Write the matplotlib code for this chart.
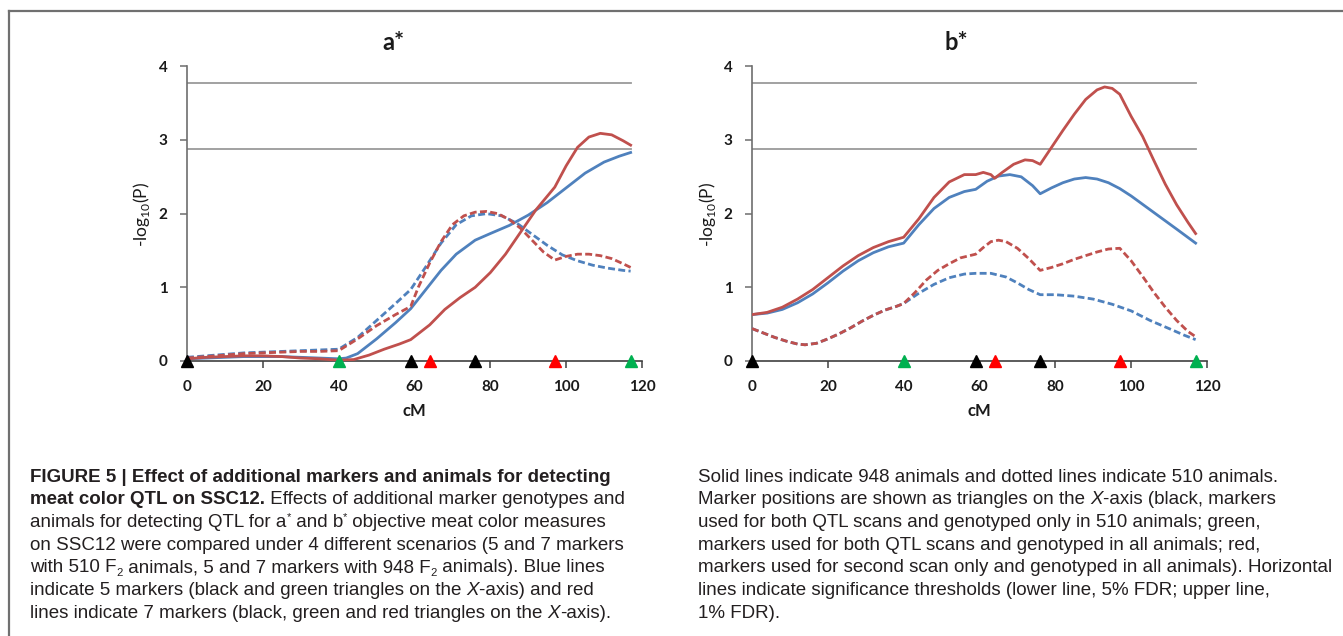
import matplotlib
matplotlib.use("Agg")
import matplotlib.pyplot as plt
import matplotlib.transforms as mtransforms
from matplotlib.lines import Line2D

# ==========================================================
# Data (cM positions and -log10(P) values)
# ==========================================================

# panel a*, 948 animals (solid)
a_red_solid_x = [0, 5, 10, 15, 20, 25, 30, 35, 40, 44, 48, 52, 56, 59, 64, 68, 72, 76, 80, 84,
                 88, 92, 97, 100, 103, 106, 109, 112, 115, 117]
a_red_solid_y = [0.03, 0.05, 0.06, 0.07, 0.07, 0.06, 0.04, 0.03, 0.01, 0.02, 0.08, 0.16, 0.23,
                 0.29, 0.49, 0.70, 0.86, 1.00, 1.20, 1.45, 1.75, 2.05, 2.36, 2.65, 2.90, 3.04,
                 3.09, 3.07, 2.99, 2.93]
a_blue_solid_x = [0, 5, 10, 15, 20, 25, 30, 35, 40, 42, 45, 50, 55, 59, 63, 67, 71, 76, 80, 85,
                  90, 95, 100, 105, 110, 114, 117]
a_blue_solid_y = [0.03, 0.04, 0.05, 0.06, 0.06, 0.06, 0.05, 0.04, 0.03, 0.04, 0.10, 0.30, 0.52,
                  0.71, 0.97, 1.23, 1.45, 1.64, 1.73, 1.84, 1.98, 2.15, 2.35, 2.55, 2.70, 2.78, 2.83]

# panel a*, 510 animals (dashed)
a_blue_dash_x = [0, 5, 10, 15, 20, 25, 30, 35, 40, 45, 50, 55, 59, 63, 67, 71, 75, 79, 83, 87,
                 91, 95, 99, 103, 107, 111, 115, 117]
a_blue_dash_y = [0.05, 0.07, 0.09, 0.11, 0.12, 0.13, 0.14, 0.15, 0.16, 0.32, 0.55, 0.78, 0.97,
                 1.28, 1.60, 1.85, 1.97, 2.00, 1.97, 1.87, 1.72, 1.57, 1.44, 1.36, 1.30, 1.26,
                 1.23, 1.22]
a_red_dash_x = [0, 5, 10, 15, 20, 25, 30, 35, 40, 45, 50, 55, 59, 61, 64, 67, 70, 73, 76, 79,
                82, 85, 88, 91, 94, 97, 100, 103, 106, 109, 112, 115, 117]
a_red_dash_y = [0.04, 0.06, 0.08, 0.10, 0.11, 0.12, 0.13, 0.13, 0.14, 0.30, 0.48, 0.63, 0.74,
                1.00, 1.33, 1.62, 1.85, 1.97, 2.02, 2.03, 2.00, 1.92, 1.80, 1.64, 1.48, 1.37,
                1.42, 1.45, 1.45, 1.43, 1.39, 1.32, 1.27]

# panel b*, 948 animals (solid)
b_red_solid_x = [0, 4, 8, 12, 16, 20, 24, 28, 32, 36, 40, 44, 48, 52, 56, 59, 61, 63, 64, 66,
                 69, 72, 74, 76, 79, 82, 85, 88, 91, 93, 95, 97, 100, 103, 106, 109, 112, 115, 117]
b_red_solid_y = [0.63, 0.66, 0.73, 0.84, 0.97, 1.13, 1.29, 1.43, 1.54, 1.62, 1.68, 1.93, 2.22,
                 2.43, 2.53, 2.53, 2.56, 2.53, 2.48, 2.56, 2.67, 2.73, 2.72, 2.67, 2.90, 3.13,
                 3.35, 3.55, 3.68, 3.72, 3.70, 3.62, 3.32, 3.05, 2.72, 2.40, 2.12, 1.88, 1.73]
b_blue_solid_x = [0, 4, 8, 12, 16, 20, 24, 28, 32, 36, 40, 44, 48, 52, 56, 59, 62, 65, 68, 71,
                  74, 76, 79, 82, 85, 88, 91, 94, 97, 100, 104, 108, 112, 117]
b_blue_solid_y = [0.63, 0.65, 0.70, 0.79, 0.91, 1.06, 1.22, 1.36, 1.47, 1.55, 1.60, 1.85, 2.07,
                  2.22, 2.30, 2.33, 2.44, 2.51, 2.53, 2.50, 2.38, 2.27, 2.35, 2.42, 2.47, 2.49,
                  2.47, 2.42, 2.34, 2.24, 2.09, 1.94, 1.79, 1.60]

# panel b*, 510 animals (dashed)
b_red_dash_x = [0, 3, 6, 9, 12, 14, 17, 20, 23, 26, 29, 32, 35, 38, 40, 43, 46, 49, 52, 55, 59,
                61, 63, 65, 67, 70, 73, 76, 79, 82, 85, 88, 91, 94, 97, 100, 103, 106, 109, 112,
                115, 117]
b_red_dash_y = [0.44, 0.38, 0.32, 0.27, 0.23, 0.22, 0.24, 0.30, 0.37, 0.45, 0.54, 0.62, 0.69,
                0.74, 0.78, 0.93, 1.10, 1.23, 1.32, 1.40, 1.45, 1.54, 1.62, 1.64, 1.62, 1.53,
                1.39, 1.23, 1.27, 1.32, 1.38, 1.43, 1.48, 1.52, 1.53, 1.36, 1.15, 0.93, 0.73,
                0.55, 0.40, 0.33]
b_blue_dash_x = [0, 3, 6, 9, 12, 14, 17, 20, 23, 26, 29, 32, 35, 38, 40, 44, 48, 52, 56, 59, 63,
                 67, 70, 73, 76, 80, 85, 90, 95, 100, 105, 110, 114, 117]
b_blue_dash_y = [0.44, 0.38, 0.32, 0.27, 0.23, 0.22, 0.24, 0.30, 0.37, 0.45, 0.54, 0.62, 0.69,
                 0.74, 0.78, 0.92, 1.04, 1.13, 1.18, 1.19, 1.19, 1.14, 1.06, 0.97, 0.90, 0.90,
                 0.88, 0.84, 0.77, 0.68, 0.55, 0.44, 0.35, 0.29]

# marker positions (cM)
black_markers = [0, 59, 76]
green_markers = [40, 117]
red_markers = [64, 97]

# significance thresholds (5% and 1% FDR)
thresholds = [2.88, 3.78]
threshold_end = 117

panel_titles = ["a*", "b*"]
x_ticks = [0, 20, 40, 60, 80, 100, 120]
y_ticks = [0, 1, 2, 3, 4]

# caption lines: (text, style) segments
left_caption = [
    [("FIGURE 5 | Effect of additional markers and animals for detecting", "b")],
    [("meat color QTL on SSC12.", "b"), (" Effects of additional marker genotypes and", "n")],
    [("animals for detecting QTL for a", "n"), ("*", "sup"), (" and b", "n"), ("*", "sup"),
     (" objective meat color measures", "n")],
    [("on SSC12 were compared under 4 different scenarios (5 and 7 markers", "n")],
    [("with 510 F", "n"), ("2", "sub"), (" animals, 5 and 7 markers with 948 F", "n"), ("2", "sub"),
     (" animals). Blue lines", "n")],
    [("indicate 5 markers (black and green triangles on the ", "n"), ("X", "i"),
     ("-axis) and red", "n")],
    [("lines indicate 7 markers (black, green and red triangles on the ", "n"), ("X", "i"),
     ("-axis).", "n")],
]
right_caption = [
    [("Solid lines indicate 948 animals and dotted lines indicate 510 animals.", "n")],
    [("Marker positions are shown as triangles on the ", "n"), ("X", "i"),
     ("-axis (black, markers", "n")],
    [("used for both QTL scans and genotyped only in 510 animals; green,", "n")],
    [("markers used for both QTL scans and genotyped in all animals; red,", "n")],
    [("markers used for second scan only and genotyped in all animals). Horizontal", "n")],
    [("lines indicate significance thresholds (lower line, 5% FDR; upper line,", "n")],
    [("1% FDR).", "n")],
]

# ==========================================================
# Style
# ==========================================================

RED = "#C0504D"
BLUE = "#4F81BD"
chart_font = ["Lato", "DejaVu Sans"]
caption_font = ["Liberation Sans Narrow", "Liberation Sans", "DejaVu Sans"]

W, H = 1343, 636
fig = plt.figure(figsize=(W / 100, H / 100), dpi=100)

# frame around the figure (top and left edges)
fig.add_artist(Line2D([9 / W, 1.0], [1 - 11 / H, 1 - 11 / H], color="#707070", lw=1.6))
fig.add_artist(Line2D([9 / W, 9 / W], [0.0, 1 - 11 / H], color="#707070", lw=1.6))

panels = [
    (187, 393, a_blue_solid_x, a_blue_solid_y, a_red_solid_x, a_red_solid_y,
     a_blue_dash_x, a_blue_dash_y, a_red_dash_x, a_red_dash_y),
    (752, 956, b_blue_solid_x, b_blue_solid_y, b_red_solid_x, b_red_solid_y,
     b_blue_dash_x, b_blue_dash_y, b_red_dash_x, b_red_dash_y),
]

ax_w = 455
ax_top, ax_bot = 66.3, 361

for i, (x0, title_x, bsx, bsy, rsx, rsy, bdx, bdy, rdx, rdy) in enumerate(panels):
    ax = fig.add_axes([x0 / W, 1 - ax_bot / H, ax_w / W, (ax_bot - ax_top) / H])
    ax.set_xlim(0, 120)
    ax.set_ylim(0, 4)

    for t in thresholds:
        ax.plot([0, threshold_end], [t, t], color="#9A9A9A", lw=1.3, zorder=1)

    dash = (0, (2.5, 1.2))
    ax.plot(bsx, bsy, color=BLUE, lw=2.0, zorder=3)
    ax.plot(rsx, rsy, color=RED, lw=2.0, zorder=3)
    ax.plot(bdx, bdy, color=BLUE, lw=2.0, ls=dash, zorder=3)
    ax.plot(rdx, rdy, color=RED, lw=2.0, ls=dash, zorder=3)

    for pos, col in [(black_markers, "black"), (green_markers, "#00B050"), (red_markers, "#FF0000")]:
        ax.plot(pos, [0] * len(pos), ls="none", marker="^", ms=8, color=col,
                clip_on=False, zorder=5)

    for side in ["top", "right"]:
        ax.spines[side].set_visible(False)
    ax.spines["left"].set_color("#6E6E6E")
    ax.spines["bottom"].set_color("#404040")
    ax.spines["left"].set_linewidth(1.2)
    ax.spines["bottom"].set_linewidth(1.2)

    ax.set_xticks(x_ticks)
    ax.set_yticks(y_ticks)
    ax.tick_params(axis="x", length=5, width=1.1, color="#404040", pad=9)
    ax.tick_params(axis="y", length=5, width=1.1, color="#6E6E6E", pad=9)
    for lab in ax.get_xticklabels() + ax.get_yticklabels():
        lab.set_fontfamily(chart_font)
        lab.set_fontweight("bold")
        lab.set_fontsize(11)
        lab.set_color("#1a1a1a")

    fig.text(title_x / W, 1 - 43 / H, panel_titles[i], ha="center", va="center",
             family=chart_font, fontweight="bold", fontsize=17, color="#1a1a1a")
    fig.text((x0 - 45) / W, 1 - 214 / H, r"-log$_{\mathregular{10}}$(P)", rotation=90,
             ha="center", va="center", family=chart_font, fontsize=12.5, color="#1a1a1a")
    fig.text((x0 + ax_w / 2) / W, 1 - 411 / H, "cM", ha="center", va="center",
             family=chart_font, fontweight="bold", fontsize=12, color="#1a1a1a")

# ==========================================================
# Caption
# ==========================================================

renderer = fig.canvas.get_renderer()
ident = mtransforms.IdentityTransform()
cap_size = 13.5
line_y = [477, 499.7, 522.4, 545.1, 567.8, 590.5, 613.2]


def draw_lines(lines, x_start):
    for row, segs in zip(line_y, lines):
        x = x_start
        y = H - row
        for text, style in segs:
            kw = dict(family=caption_font, fontsize=cap_size, color="#231F20",
                      va="center", ha="left", transform=ident)
            yy = y
            if style == "b":
                kw["fontweight"] = "bold"
            elif style == "i":
                kw["fontstyle"] = "italic"
            elif style == "sub":
                kw["fontsize"] = cap_size * 0.6
                yy = y - 5
            elif style == "sup":
                kw["fontsize"] = cap_size * 0.6
                yy = y + 5
            t = fig.text(x, yy, text, **kw)
            x = t.get_window_extent(renderer).x1


draw_lines(left_caption, 30)
draw_lines(right_caption, 698)

fig.savefig("out.png", dpi=100)
